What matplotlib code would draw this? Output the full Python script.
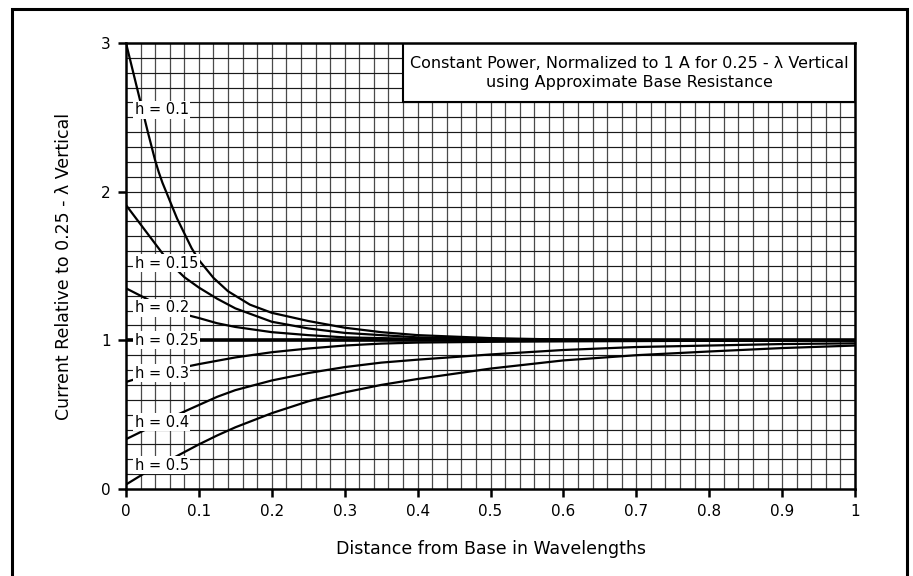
import matplotlib
matplotlib.use("Agg")
import matplotlib.pyplot as plt
from matplotlib.patches import Rectangle

# ---- data ----
x_h01 = [0, 0.01, 0.02, 0.03, 0.04, 0.045, 0.05, 0.055, 0.06, 0.07, 0.08, 0.09, 0.1, 0.12, 0.14, 0.17, 0.2, 0.25, 0.3, 0.35, 0.4, 0.5, 0.6, 0.8, 1.0]
y_h01 = [3.0, 2.80, 2.60, 2.40, 2.21, 2.13, 2.06, 2.0, 1.94, 1.82, 1.72, 1.62, 1.54, 1.42, 1.33, 1.24, 1.185, 1.13, 1.085, 1.055, 1.035, 1.015, 1.005, 1.0, 1.0]

x_h015 = [0, 0.02, 0.04, 0.06, 0.08, 0.1, 0.125, 0.15, 0.2, 0.25, 0.3, 0.35, 0.4, 0.5, 0.6, 0.8, 1.0]
y_h015 = [1.91, 1.78, 1.65, 1.52, 1.425, 1.355, 1.28, 1.215, 1.125, 1.08, 1.05, 1.035, 1.02, 1.01, 1.003, 1.0, 1.0]

x_h02 = [0, 0.02, 0.04, 0.06, 0.08, 0.1, 0.125, 0.15, 0.2, 0.25, 0.3, 0.4, 0.5, 0.6, 1.0]
y_h02 = [1.35, 1.30, 1.25, 1.21, 1.175, 1.15, 1.115, 1.09, 1.055, 1.035, 1.02, 1.01, 1.003, 1.0, 1.0]

x_h025 = [0, 1.0]
y_h025 = [1.0, 1.0]

x_h03 = [0, 0.02, 0.05, 0.1, 0.15, 0.2, 0.25, 0.3, 0.35, 0.4, 0.5, 0.6, 0.8, 1.0]
y_h03 = [0.72, 0.75, 0.79, 0.84, 0.885, 0.92, 0.945, 0.965, 0.978, 0.985, 0.99, 0.993, 0.997, 1.0]

x_h04 = [0, 0.025, 0.05, 0.075, 0.1, 0.125, 0.15, 0.2, 0.25, 0.3, 0.35, 0.4, 0.5, 0.6, 0.7, 0.8, 0.9, 1.0]
y_h04 = [0.335, 0.395, 0.455, 0.51, 0.565, 0.62, 0.665, 0.73, 0.78, 0.82, 0.85, 0.87, 0.905, 0.935, 0.955, 0.965, 0.975, 0.98]

x_h05 = [0, 0.025, 0.05, 0.075, 0.1, 0.125, 0.15, 0.2, 0.25, 0.3, 0.35, 0.4, 0.5, 0.6, 0.7, 0.8, 0.9, 1.0]
y_h05 = [0.03, 0.105, 0.17, 0.235, 0.3, 0.36, 0.415, 0.51, 0.59, 0.65, 0.70, 0.74, 0.81, 0.865, 0.9, 0.925, 0.948, 0.965]

curve_labels = ["h = 0.1", "h = 0.15", "h = 0.2", "h = 0.25", "h = 0.3", "h = 0.4", "h = 0.5"]
label_y = [2.55, 1.52, 1.22, 1.0, 0.78, 0.45, 0.16]

x_ticks = [0, 0.1, 0.2, 0.3, 0.4, 0.5, 0.6, 0.7, 0.8, 0.9, 1]
x_ticklabels = ["0", "0.1", "0.2", "0.3", "0.4", "0.5", "0.6", "0.7", "0.8", "0.9", "1"]
y_ticks = [0, 1, 2, 3]
y_ticklabels = ["0", "1", "2", "3"]

title_lines = "Constant Power, Normalized to 1 A for 0.25 - \u03bb Vertical\nusing Approximate Base Resistance"
x_label = "Distance from Base in Wavelengths"
y_label = "Current Relative to 0.25 - \u03bb Vertical"

# ---- figure ----
plt.rcParams['font.family'] = ['DejaVu Sans']
W, H = 913, 576
fig = plt.figure(figsize=(W / 100, H / 100), dpi=100)
ax = fig.add_axes([126 / W, 1 - 489 / H, (855 - 126) / W, (489 - 43) / H])
ax.set_xlim(0, 1)
ax.set_ylim(0, 3)

# grid
for i in range(1, 50):
    ax.axvline(i * 0.02, color='#4a4a4a', lw=0.9, zorder=1)
for j in range(1, 30):
    ax.axhline(j * 0.1, color='#1a1a1a', lw=0.85, zorder=1)

series = [(x_h01, y_h01), (x_h015, y_h015), (x_h02, y_h02), (x_h025, y_h025),
          (x_h03, y_h03), (x_h04, y_h04), (x_h05, y_h05)]
for k, (xs, ys) in enumerate(series):
    ax.plot(xs, ys, color='black', lw=2.6 if k == 3 else 1.6, zorder=3,
            solid_capstyle='butt', solid_joinstyle='round')

for txt, yv in zip(curve_labels, label_y):
    ax.text(0.012, yv, txt, fontsize=10.5, ha='left', va='center', zorder=5,
            bbox=dict(facecolor='white', edgecolor='none', pad=1.0))

# info box
ax.add_patch(Rectangle((0.38, 2.6), 0.62, 0.4, facecolor='white', edgecolor='black',
                       lw=1.5, zorder=6))
ax.text(0.69, 2.8, title_lines, ha='center', va='center', fontsize=11.5,
        linespacing=1.3, zorder=7)

ax.set_xticks(x_ticks)
ax.set_xticklabels(x_ticklabels, fontsize=11)
ax.set_yticks(y_ticks)
ax.set_yticklabels(y_ticklabels, fontsize=11)
ax.tick_params(direction='out', length=6, width=1.8, pad=5)
for s in ax.spines.values():
    s.set_linewidth(1.8)
    s.set_zorder(8)

ax.set_xlabel(x_label, fontsize=12.5, labelpad=15)
ax.set_ylabel(y_label, fontsize=12.5, labelpad=20)

# outer frame
fig.patches.append(Rectangle((12 / W, -0.05), (907 - 12) / W, 1.05 - 9 / H,
                             transform=fig.transFigure, fill=False,
                             edgecolor='black', lw=2.2))

fig.savefig("out.png", dpi=100)
